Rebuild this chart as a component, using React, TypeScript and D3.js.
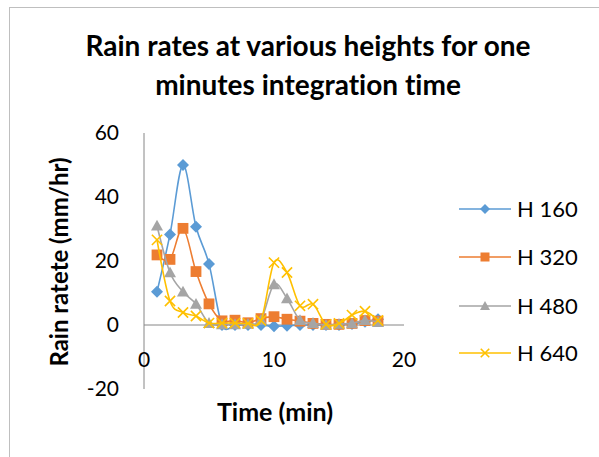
import React from "react";
import * as d3 from "d3";

// Rain rate (mm/hr) per minute of integration time, for four heights
const minutes = [1, 2, 3, 4, 5, 6, 7, 8, 9, 10, 11, 12, 13, 14, 15, 16, 17, 18];
const h160 = [10.4, 28.3, 50, 30.7, 19.1, 0, 0, 0, 0, -0.4, -0.2, 0, 0, 0, 0, 0.3, 1.0, 1.8];
const h320 = [21.9, 20.5, 30.2, 16.7, 6.6, 1.3, 1.5, 0.7, 2.0, 2.6, 1.8, 1.2, 0.5, 0.2, 0.2, 0.5, 1.4, 1.2];
const h480 = [31, 16.4, 10.4, 6.6, 0.6, 0.2, 0.2, 0.3, 1.6, 12.7, 8.3, 1.5, 0.6, 0, 0.3, 0.5, 1.5, 0.9];
const h640 = [26.6, 7.5, 3.9, 2.8, 0.6, 0.6, 0.6, 0.5, 1.4, 19.5, 16.4, 6.0, 6.5, 0.2, 0.5, 3.1, 4.3, 1.4];

const seriesNames = ["H 160", "H 320", "H 480", "H 640"];
const seriesValues = [h160, h320, h480, h640];
const seriesColors = ["#5B9BD5", "#ED7D31", "#A5A5A5", "#FFC000"];
const seriesMarkers = ["diamond", "square", "triangle", "cross"];

const xTicks = [0, 10, 20];
const yTicks = [-20, 0, 20, 40, 60];

const W = 599;
const H = 457;
const FONT = "Lato, 'Open Sans', sans-serif";

function Marker({ kind, x, y, color, size }: { kind: string; x: number; y: number; color: string; size: number }) {
  const s = size / 2;
  if (kind === "diamond") {
    return <path d={`M${x},${y - s}L${x + s},${y}L${x},${y + s}L${x - s},${y}Z`} fill={color} />;
  }
  if (kind === "square") {
    return <rect x={x - s * 0.9} y={y - s * 0.9} width={s * 1.8} height={s * 1.8} fill={color} />;
  }
  if (kind === "triangle") {
    return <path d={`M${x},${y - s}L${x + s},${y + s * 0.8}L${x - s},${y + s * 0.8}Z`} fill={color} />;
  }
  const c = s * 0.85;
  return (
    <path
      d={`M${x - c},${y - c}L${x + c},${y + c}M${x + c},${y - c}L${x - c},${y + c}`}
      stroke={color}
      strokeWidth={1.6}
      fill="none"
    />
  );
}

export default function App() {
  const x = d3.scaleLinear().domain([0, 20]).range([144, 404]);
  const y = d3.scaleLinear().domain([-20, 60]).range([389, 133]);

  const line = d3
    .line<number>()
    .x((_, i) => x(minutes[i]))
    .y((v) => y(v))
    .curve(d3.curveCatmullRom.alpha(0));

  const legendY = [209, 257, 306, 353];

  return (
    <svg
      width={W}
      height={H}
      style={{ position: "absolute", left: 0, top: 0, fontVariantLigatures: "none" }}
    >
      <rect x={0} y={0} width={W} height={H} fill="#ffffff" />
      <rect x={9.5} y={7.5} width={W + 10} height={H + 10} fill="none" stroke="#bfbfbf" strokeWidth={1} />

      <text x={308} y={56} textAnchor="middle" fontFamily={FONT} fontWeight={700} fontSize={28} fill="#000">
        Rain rates at various heights for one
      </text>
      <text x={308} y={95} textAnchor="middle" fontFamily={FONT} fontWeight={700} fontSize={28} fill="#000">
        minutes integration time
      </text>

      {/* axes */}
      <line x1={x(0)} x2={x(0)} y1={y(60)} y2={y(-20)} stroke="#868686" strokeWidth={1} />
      <line x1={x(0)} x2={x(20)} y1={y(0)} y2={y(0)} stroke="#868686" strokeWidth={1} />

      {yTicks.map((t) => (
        <text key={t} x={119} y={y(t)} dy="0.35em" textAnchor="end" fontFamily={FONT} fontSize={21} fill="#000">
          {t}
        </text>
      ))}
      {xTicks.map((t) => (
        <text key={t} x={x(t)} y={y(0) + 35} dy="0.35em" textAnchor="middle" fontFamily={FONT} fontSize={21} fill="#000">
          {t}
        </text>
      ))}

      <text x={275} y={412} dy="0.35em" textAnchor="middle" fontFamily={FONT} fontWeight={700} fontSize={25} fill="#000">
        Time (min)
      </text>
      <text
        transform={`translate(60,262) rotate(-90)`}
        dy="0.35em"
        textAnchor="middle"
        fontFamily={FONT}
        fontWeight={700}
        fontSize={24}
        fill="#000"
      >
        Rain ratete (mm/hr)
      </text>

      {/* series */}
      {seriesValues.map((vals, si) => (
        <g key={seriesNames[si]}>
          <path d={line(vals) || ""} fill="none" stroke={seriesColors[si]} strokeWidth={1.6} />
          {vals.map((v, i) => (
            <Marker key={i} kind={seriesMarkers[si]} x={x(minutes[i])} y={y(v)} color={seriesColors[si]} size={12} />
          ))}
        </g>
      ))}

      {/* legend */}
      {seriesNames.map((name, si) => (
        <g key={name}>
          <line x1={459} x2={511} y1={legendY[si]} y2={legendY[si]} stroke={seriesColors[si]} strokeWidth={1.6} />
          <Marker kind={seriesMarkers[si]} x={485} y={legendY[si]} color={seriesColors[si]} size={10} />
          <text x={517} y={legendY[si]} dy="0.35em" fontFamily={FONT} fontSize={22} fill="#000">
            {name}
          </text>
        </g>
      ))}
    </svg>
  );
}
